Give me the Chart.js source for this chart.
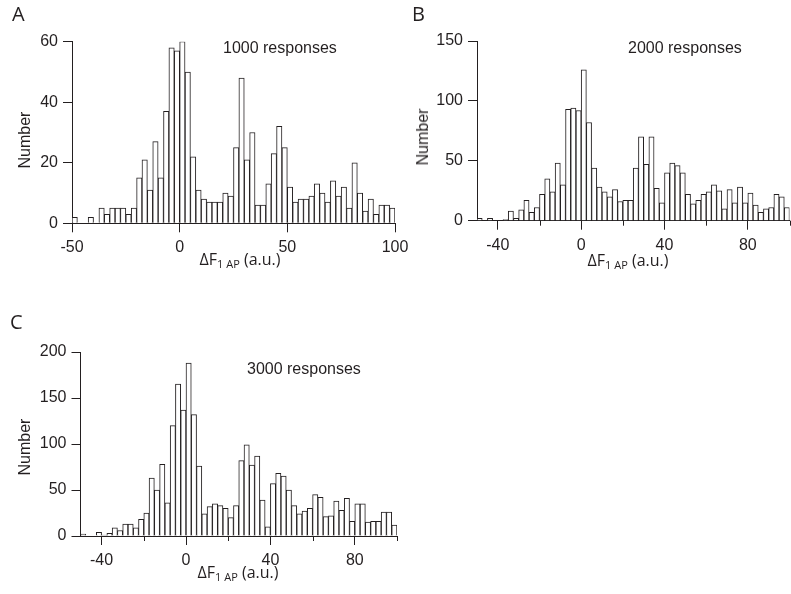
<!DOCTYPE html>
<html>
<head>
<meta charset="utf-8">
<script src="https://cdn.jsdelivr.net/npm/chart.js@4.4.0/dist/chart.umd.min.js"></script>
<style>
  body { margin: 0; background: #fff; }
  #wrap { position: relative; width: 791px; height: 594px; overflow: hidden; color: #231f20; font-family: "Liberation Sans", Arial, sans-serif; }
  canvas { position: absolute; }
  .txt { position: absolute; white-space: nowrap; line-height: 1; }
  .panel { font-family: "Open Sans", sans-serif; font-size: 20px; line-height: 20px; }
  .note { font-size: 16px; line-height: 16px; }
  .xt { font-family: "Open Sans", sans-serif; font-size: 16px; line-height: 16px; transform: translateX(-50%); }
  .xt span { font-size: 11px; position: relative; top: 3px; }
  .yt { width: 0; height: 0; }
  .yt div { position: absolute; font-size: 16px; line-height: 16px; transform: translate(-50%, -50%) rotate(-90deg); white-space: nowrap; }
</style>
</head>
<body>
<div id="wrap">
  <canvas id="histA" width="430" height="280" style="left:0;top:0"></canvas>
  <canvas id="histB" width="391" height="280" style="left:400px;top:0"></canvas>
  <canvas id="histC" width="430" height="314" style="left:0;top:280px"></canvas>

  <div class="txt panel" style="left:12px;top:4px">A</div>
  <div class="txt panel" style="left:412px;top:4px">B</div>
  <div class="txt panel" style="left:10px;top:312px">C</div>

  <div class="txt note" style="left:223px;top:40px">1000 responses</div>
  <div class="txt note" style="left:628px;top:40px">2000 responses</div>
  <div class="txt note" style="left:247px;top:361px">3000 responses</div>

  <div class="txt xt" style="left:240px;top:251px">ΔF<span>1 AP</span> (a.u.)</div>
  <div class="txt xt" style="left:628px;top:252px">ΔF<span>1 AP</span> (a.u.)</div>
  <div class="txt xt" style="left:238px;top:564px">ΔF<span>1 AP</span> (a.u.)</div>

  <div class="txt yt" style="left:25px;top:140px"><div>Number</div></div>
  <div class="txt yt" style="left:423px;top:137px"><div>Number</div></div>
  <div class="txt yt" style="left:25px;top:447px"><div>Number</div></div>
</div>

<script>
const ink = '#231f20';

// histogram bins: 2.5 wide from -50 to 100
const binStart = -50;
const binWidth = 2.5;

const countsA = [2, 0, 0, 2, 0, 5, 3, 5, 5, 5,
  3, 5, 15, 21, 11, 27, 15, 37, 58, 57,
  60, 50, 22, 11, 8, 7, 7, 7, 10, 9,
  25, 48, 21, 30, 6, 6, 13, 23, 32, 25,
  12, 7, 8, 8, 9, 13, 10, 7, 14, 9,
  12, 5, 20, 10, 4, 8, 3, 6, 6, 5];

const countsB = [2, 0, 2, 0, 0, 1, 8, 2, 9, 17,
  7, 11, 22, 35, 24, 48, 30, 93, 94, 92,
  126, 82, 44, 28, 24, 20, 26, 16, 17, 17,
  44, 70, 47, 70, 27, 15, 40, 48, 46, 40,
  22, 14, 17, 22, 24, 30, 25, 10, 26, 15,
  28, 15, 23, 13, 7, 10, 11, 22, 20, 11];

const countsC = [2, 0, 0, 4, 1, 3, 9, 6, 13, 13,
  9, 18, 25, 63, 50, 78, 36, 120, 165, 137,
  188, 132, 76, 24, 32, 35, 33, 30, 20, 33,
  82, 99, 77, 87, 39, 10, 57, 68, 65, 50,
  33, 24, 27, 30, 45, 42, 21, 22, 38, 28,
  41, 16, 35, 35, 15, 16, 16, 26, 26, 12];

const binCenters = countsA.map((_, i) => binStart + binWidth * (i + 0.5));

const xTicksA = [-50, 0, 50, 100];
const xTicksBC = [-40, 0, 40, 80];
const xMinorBC = [-20, 20, 60, 100];
const yTicksA = [0, 20, 40, 60];
const yTicksB = [0, 50, 100, 150];
const yTicksC = [0, 50, 100, 150, 200];

const tickFont = { family: '"Liberation Sans", Arial, sans-serif', size: 16 };

// short unlabeled ticks on the x axis
const minorTicks = {
  id: 'minorTicks',
  afterDraw(chart, args, opts) {
    if (!opts.values || !opts.values.length) return;
    const x = chart.scales.x;
    const ctx = chart.ctx;
    ctx.save();
    ctx.strokeStyle = ink;
    ctx.lineWidth = 1;
    opts.values.forEach(v => {
      const px = Math.round(x.getPixelForValue(v)) + 0.5;
      ctx.beginPath();
      ctx.moveTo(px, x.top);
      ctx.lineTo(px, x.top + opts.length);
      ctx.stroke();
    });
    ctx.restore();
  }
};

function makeHist(id, counts, cfg) {
  const ctx = document.getElementById(id).getContext('2d');
  return new Chart(ctx, {
    type: 'bar',
    data: {
      datasets: [{
        data: counts.map((n, i) => ({ x: binCenters[i], y: n })),
        backgroundColor: '#ffffff',
        borderColor: ink,
        borderWidth: 1,
        categoryPercentage: 1,
        barPercentage: 1
      }]
    },
    options: {
      responsive: false,
      animation: false,
      devicePixelRatio: 1,
      events: [],
      layout: { padding: cfg.pad },
      plugins: {
        legend: { display: false },
        tooltip: { enabled: false },
        minorTicks: { values: cfg.minor || [], length: 5 }
      },
      scales: {
        x: {
          type: 'linear',
          min: -50,
          max: 100,
          offset: false,
          afterBuildTicks: s => { s.ticks = cfg.xTicks.map(v => ({ value: v })); },
          afterFit: s => { s.height = 35; },
          grid: { drawOnChartArea: false, tickLength: 9, tickColor: ink, offset: false },
          border: { color: ink, width: 1 },
          ticks: { color: ink, font: tickFont, padding: 6, maxRotation: 0, autoSkip: false }
        },
        y: {
          min: 0,
          max: cfg.yTicks[cfg.yTicks.length - 1],
          afterBuildTicks: s => { s.ticks = cfg.yTicks.map(v => ({ value: v })); },
          afterFit: s => { s.width = cfg.left; },
          grid: { drawOnChartArea: false, tickLength: 9, tickColor: ink },
          border: { color: ink, width: 1 },
          ticks: { color: ink, font: tickFont, padding: 5 }
        }
      }
    },
    plugins: [minorTicks]
  });
}

makeHist('histA', countsA, {
  left: 72, yTicks: yTicksA, xTicks: xTicksA,
  pad: { top: 41.7, right: 35, bottom: 21.7, left: 0 }
});
makeHist('histB', countsB, {
  left: 77, yTicks: yTicksB, xTicks: xTicksBC, minor: xMinorBC,
  pad: { top: 41, right: 1.5, bottom: 24.3, left: 0 }
});
makeHist('histC', countsC, {
  left: 80.5, yTicks: yTicksC, xTicks: xTicksBC, minor: xMinorBC,
  pad: { top: 72, right: 33, bottom: 23, left: 0 }
});
</script>
</body>
</html>
